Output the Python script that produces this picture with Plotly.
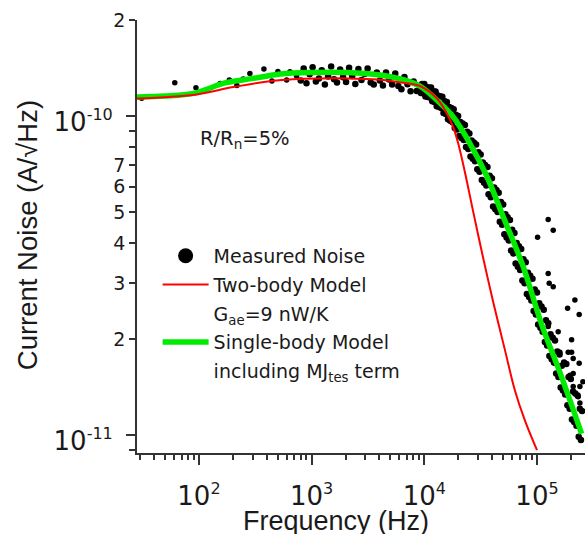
import plotly.graph_objects as go

UNIT = 1e-11  # noise values below are listed in units of 1e-11 A/sqrt(Hz)

# ---- Measured noise (black dots) ----
meas_low_freq = [31, 61, 94, 154, 186, 217, 247, 283, 377, 444, 502, 600, 642, 735]
meas_low_noise = [11.36, 12.72, 12.26, 12.64, 12.97, 12.47, 13.06, 13.6, 14.05, 12.87, 13.8, 12.97, 13.77, 13.35]

meas_plateau_freq = [800, 850, 900, 960, 1020, 1090, 1160, 1230, 1310, 1400, 1490, 1580, 1680, 1790, 1900,
                     2020, 2150, 2290, 2440, 2600, 2770, 2950, 3140, 3340, 3560, 3790, 4030, 4290, 4570, 4870,
                     5180, 5520, 5880, 6260, 6660, 7090, 7550, 8040, 8560, 9110]
meas_plateau_noise = [12.93, 14.10, 12.66, 13.51, 14.21, 12.84, 13.12, 13.91, 12.56, 13.30, 14.30, 13.03, 12.74,
                      14.00, 13.22, 12.79, 14.16, 13.36, 12.61, 14.05, 12.98, 13.55, 14.09, 12.74, 12.56, 13.70,
                      12.93, 12.46, 13.69, 13.02, 12.56, 13.59, 12.41, 12.14, 13.25, 12.59, 11.95, 12.84, 11.98, 12.14]

meas_rolloff_freq = [9333, 9550, 9772, 10000, 10230, 10470, 10720, 10960, 11220, 11480,
                     11750, 12020, 12300, 12590, 12880, 13180, 13490, 13800, 14130, 14450,
                     14790, 15140, 15490, 15850, 16220, 16600, 16980, 17380, 17780, 18200,
                     18620, 19050, 19500, 19950, 20420, 20890, 21380, 21880, 22390, 22910,
                     23440, 23990, 24550, 25120, 25700, 26300, 26920, 27540, 28180, 28840,
                     29510, 30200, 30900, 31620, 32360, 33110, 33880, 34670, 35480, 36310,
                     37150, 38020, 38900, 39810, 40740, 41690, 42660, 43650, 44670, 45710,
                     46770, 47860, 48980, 50120, 51290, 52480, 53700, 54950, 56230, 57540,
                     58880, 60260, 61660, 63100, 64570, 66070, 67610, 69180, 70790, 72440,
                     74130, 75860, 77620, 79430, 81280, 83180, 85110, 87100, 89130, 91200,
                     93330, 95500, 97720, 100000, 102300, 104700, 107200, 109600, 112200, 114800,
                     117500, 120200, 123000, 125900, 128800, 131800, 134900, 138000, 141300, 144500,
                     147900, 151400, 154900, 158500, 162200, 166000, 169800, 173800, 177800, 182000,
                     186200, 190500, 195000, 199500, 204200, 208900, 213800, 218800, 223900, 229100,
                     234400, 239900, 245500, 251200]
meas_rolloff_noise = [11.81, 12.61, 11.78, 12.61, 11.51, 12.33, 11.48, 12.29, 11.43, 12.28,
                      11.13, 11.96, 11.07, 11.93, 10.74, 11.59, 10.67, 11.53, 10.60, 11.49,
                      10.23, 11.12, 10.15, 11.06, 9.77, 10.67, 9.67, 10.59, 9.57, 10.51,
                      9.17, 10.09, 9.07, 10.00, 8.66, 9.58, 8.54, 9.47, 8.42, 9.37,
                      8.00, 8.93, 7.88, 8.82, 7.47, 8.38, 7.35, 8.26, 7.22, 8.14,
                      6.81, 7.70, 6.69, 7.58, 6.30, 7.15, 6.18, 7.03, 6.06, 6.92,
                      5.69, 6.50, 5.57, 6.38, 5.21, 5.97, 5.10, 5.86, 5.00, 5.75,
                      4.66, 5.38, 4.56, 5.28, 4.26, 4.92, 4.16, 4.82, 4.07, 4.72,
                      3.79, 4.40, 3.71, 4.30, 3.45, 4.00, 3.37, 3.91, 3.29, 3.83,
                      3.05, 3.56, 2.99, 3.48, 2.77, 3.23, 2.71, 3.16, 2.64, 3.09,
                      2.45, 2.86, 2.39, 2.80, 2.22, 2.59, 2.17, 2.53, 2.11, 2.47,
                      1.96, 2.29, 1.91, 2.24, 1.77, 2.07, 1.73, 2.02, 1.69, 1.98,
                      1.56, 1.83, 1.52, 1.79, 1.41, 1.65, 1.38, 1.69, 1.34, 1.67,
                      1.24, 1.52, 1.21, 1.50, 1.12, 1.37, 1.10, 1.35, 1.07, 1.33,
                      0.989, 1.21, 0.965, 1.19]

meas_outlier_freq = [101200, 125700, 139300, 125700, 128300, 139300, 186900, 216900, 236800, 125700,
                     154200, 134800, 202800, 159700, 202800, 144200, 236800, 209500, 195900, 255500,
                     209500, 240300, 232100, 240300, 189100, 209500]
meas_outlier_noise = [4.17, 4.74, 4.39, 3.21, 2.99, 2.92, 2.50, 2.65, 2.39, 2.19,
                      2.11, 2.03, 1.99, 1.82, 1.82, 1.68, 1.68, 1.56, 1.54, 1.47,
                      1.42, 1.42, 1.32, 1.26, 1.82, 1.74]

# ---- Two-body model (red) ----
two_body_freq = [28.2, 92, 208, 545, 2050, 4040, 6970, 9140, 12900, 15800, 18000, 20000,
                 22900, 27200, 33300, 40900, 51900, 63700, 78200, 100000]
two_body_noise = [11.35, 11.67, 12.35, 12.97, 13.12, 13.0, 12.67, 12.42, 11.37, 10.2, 9.25, 8.2,
                  6.68, 5.0, 3.59, 2.61, 1.85, 1.38, 1.11, 0.897]

# ---- Single-body model (green) ----
single_body_freq = [28, 50, 92, 170, 294, 530, 1000, 2050, 4040, 6500, 9140, 13700, 18000,
                    25400, 35700, 50200, 75500, 110000, 160000, 249000]
single_body_noise = [11.48, 11.55, 11.8, 12.7, 13.1, 13.55, 13.7, 13.7, 13.45, 13.0, 12.4, 11.0, 9.95,
                     8.2, 6.5, 4.83, 3.37, 2.22, 1.57, 1.01]

# ---- Ticks ----
x_major_vals = [1e2, 1e3, 1e4, 1e5]
x_major_text = ["10<sup><span style='font-size:16px'>2</span></sup>",
                "10<sup><span style='font-size:16px'>3</span></sup>",
                "10<sup><span style='font-size:16px'>4</span></sup>",
                "10<sup><span style='font-size:16px'>5</span></sup>"]
x_minor_vals = [30, 40, 50, 60, 70, 80, 90, 200, 300, 400, 500, 600, 700, 800, 900,
                2000, 3000, 4000, 5000, 6000, 7000, 8000, 9000,
                20000, 30000, 40000, 50000, 60000, 70000, 80000, 90000, 200000]
y_digit_vals = [2e-10, 7e-11, 6e-11, 5e-11, 4e-11, 3e-11, 2e-11]
y_digit_text = ["2", "7", "6", "5", "4", "3", "2"]
y_minor_vals = [9e-11, 8e-11, 9e-12]
y_decade_vals = [1e-10, 1e-11]
y_decade_text = ["10<sup><span style='font-size:16px'>-10</span></sup>",
                 "10<sup><span style='font-size:16px'>-11</span></sup>"]

AX = '#333333'
FONT = 'DejaVu Sans'
TITLE_FONT = 'Liberation Sans'
TXT = '#1a1a1a'

meas_freq = meas_low_freq + meas_plateau_freq + meas_rolloff_freq + meas_outlier_freq
meas_noise = meas_low_noise + meas_plateau_noise + meas_rolloff_noise + meas_outlier_noise
meas_size = ([5.5] * len(meas_low_freq) + [6.5] * len(meas_plateau_freq)
             + [6.5] * len(meas_rolloff_freq) + [5.5] * len(meas_outlier_freq))

fig = go.Figure()
fig.add_trace(go.Scatter(x=meas_freq, y=[v * UNIT for v in meas_noise], mode='markers',
                         marker=dict(color='#000000', size=meas_size, opacity=1, line=dict(width=0)),
                         opacity=1, showlegend=False, hoverinfo='skip'))
# legend entries
fig.add_trace(go.Scatter(x=[None], y=[None], mode='markers', name='Measured Noise',
                         marker=dict(color='#000000', size=15, opacity=1), legendrank=1, legendgroup='g1',
                         yaxis='y2'))
fig.add_trace(go.Scatter(x=single_body_freq, y=[v * UNIT for v in single_body_noise], mode='lines',
                         line=dict(color='rgb(0,235,0)', width=5.5, shape='spline'),
                         name='Single-body Model', legendrank=4, legendgroup='g4'))
fig.add_trace(go.Scatter(x=two_body_freq, y=[v * UNIT for v in two_body_noise], mode='lines',
                         line=dict(color='rgb(255,0,0)', width=2, shape='spline'),
                         name='Two-body Model', legendrank=2, legendgroup='g2'))
fig.add_trace(go.Scatter(x=[None], y=[None], mode='lines', line=dict(width=0, color='rgba(0,0,0,0)'),
                         name='G<sub>ae</sub>=9 nW/K', legendrank=3, legendgroup='g3', yaxis='y2'))
fig.add_trace(go.Scatter(x=[None], y=[None], mode='lines', line=dict(width=0, color='rgba(0,0,0,0)'),
                         name='including MJ<sub>tes</sub> term', legendrank=5, legendgroup='g5',
                         yaxis='y2'))

yrange = [-11.056, -9.699]
fig.update_layout(
    width=587, height=534,
    margin=dict(l=137, r=2, t=20, b=81),
    paper_bgcolor='white', plot_bgcolor='white',
    font=dict(family=FONT, color=TXT),
    xaxis=dict(type='log', range=[1.450, 5.426], showline=True, linecolor=AX, linewidth=1.5,
               automargin=False,
               ticks='outside', ticklen=10, tickwidth=1.5, tickcolor=AX,
               tickmode='array', tickvals=x_major_vals, ticktext=x_major_text,
               tickfont=dict(size=26, family=FONT, color=TXT), ticklabelstandoff=9,
               showgrid=False, zeroline=False,
               minor=dict(tickmode='array', tickvals=x_minor_vals, ticks='outside', ticklen=5,
                          tickwidth=1.5, tickcolor=AX, showgrid=False)),
    yaxis=dict(type='log', range=yrange, showline=True, linecolor=AX, linewidth=1.5,
               automargin=False,
               ticks='outside', ticklen=6, tickwidth=1.5, tickcolor=AX,
               tickmode='array', tickvals=y_digit_vals, ticktext=y_digit_text,
               tickfont=dict(size=19, family=FONT, color=TXT),
               showgrid=False, zeroline=False,
               minor=dict(tickmode='array', tickvals=y_minor_vals, ticks='outside', ticklen=6,
                          tickwidth=1.5, tickcolor=AX, showgrid=False)),
    yaxis2=dict(type='log', range=yrange, overlaying='y', side='left', anchor='x',
                automargin=False,
                showline=False, ticks='outside', ticklen=10, tickwidth=1.5, tickcolor=AX,
                tickmode='array', tickvals=y_decade_vals, ticktext=y_decade_text,
                tickfont=dict(size=26, family=FONT, color=TXT),
                ticklabelstandoff=8, ticklabelshift=6,
                showgrid=False, zeroline=False),
    legend=dict(x=0.046, y=0.499, xanchor='left', yanchor='top', bgcolor='rgba(0,0,0,0)',
                font=dict(size=19, family=FONT, color=TXT), valign='middle',
                tracegroupgap=1, itemwidth=46),
    showlegend=True,
    annotations=[
        dict(text='R/R<sub>n</sub>=5%', x=0.241, y=0.723, xref='paper', yref='paper',
             showarrow=False, xanchor='center', yanchor='middle',
             font=dict(size=19.5, family=FONT, color=TXT)),
        dict(text='Current Noise (A/\u221aHz)', x=-0.2455, y=0.503, xref='paper', yref='paper',
             textangle=-90, showarrow=False, xanchor='center', yanchor='middle',
             font=dict(size=27.5, family=TITLE_FONT, color=TXT)),
        dict(text='Frequency (Hz)', x=0.444, y=-0.158, xref='paper', yref='paper',
             showarrow=False, xanchor='center', yanchor='middle', borderpad=0,
             font=dict(size=27, family=TITLE_FONT, color=TXT)),
    ],
)

fig.write_html('out.html', config={'displayModeBar': False},
               post_script="document.body.style.margin='0px';")
